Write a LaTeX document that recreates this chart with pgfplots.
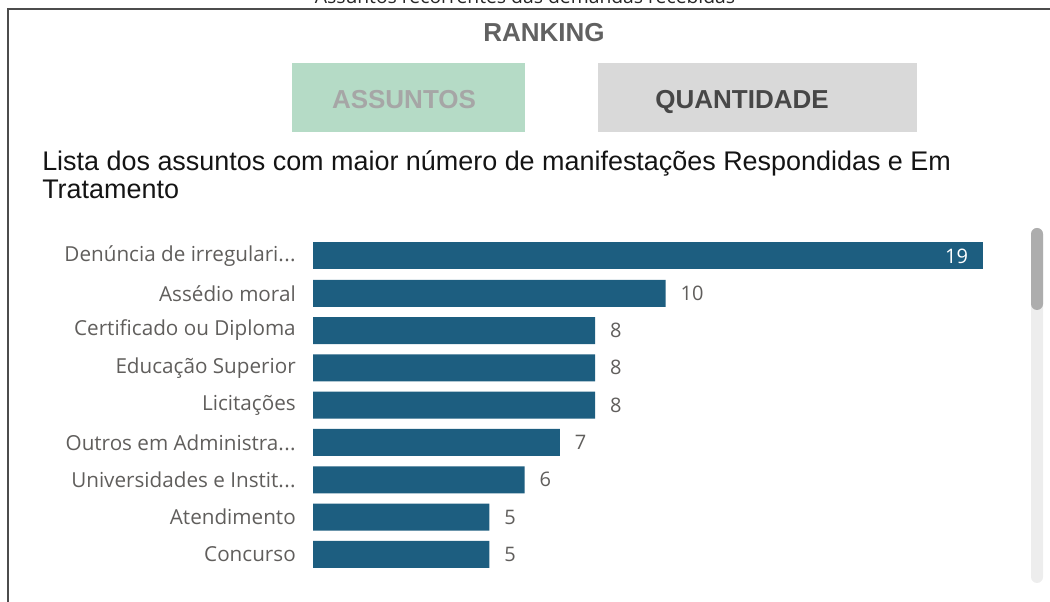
\documentclass[border=0pt]{standalone}
\usepackage{pgfplots}
\pgfplotsset{compat=1.18}
\usepackage{fontspec}
\setmainfont{Liberation Sans}
\newfontfamily\segoe{Open Sans}
\definecolor{barc}{RGB}{29,94,128}
\definecolor{greenbtn}{RGB}{181,219,198}
\definecolor{graybtn}{RGB}{217,217,217}
\definecolor{labelc}{RGB}{96,94,92}
\newcommand{\dd}{.\kern0.3pt.\kern0.3pt.}
\begin{document}
\begin{tikzpicture}
\useasboundingbox (0,0) rectangle (787.5pt,451.5pt);
\clip (0,0) rectangle (787.5pt,451.5pt);
\begin{scope}[x=0.75pt,y=-0.75pt,shift={(0pt,451.5pt)}]
  % cut caption
  \node[font=\segoe\fontsize{14.5}{16}\selectfont, text=black!85, anchor=base, inner sep=0pt] at (525,4) {Assuntos recorrentes das demandas recebidas};
  % frame
  \draw[color=black!70, line width=1.5pt] (8,603) -- (8,9) -- (1051,9);
  % ranking
  \node[font=\bfseries\fontsize{19.5}{22}\selectfont, text=black!62, anchor=base, inner sep=0pt] at (544,42) {RANKING};
  % buttons
  \fill[greenbtn] (292,63) rectangle (525,132);
  \fill[graybtn] (598,63) rectangle (917,132);
  \node[font=\bfseries\fontsize{19.5}{22}\selectfont, text=black!35, anchor=base, inner sep=0pt] at (404,109) {ASSUNTOS};
  \node[font=\bfseries\fontsize{19.5}{22}\selectfont, text=black!72, anchor=base, inner sep=0pt] at (742,109) {QUANTIDADE};
  % subtitle
  \node[font=\fontsize{20.2}{24}\selectfont, text=black!92, anchor=base west, inner sep=0pt] at (42,171) {Lista dos assuntos com maior número de manifestações Respondidas e Em};
  \node[font=\fontsize{20.2}{24}\selectfont, text=black!92, anchor=base west, inner sep=0pt] at (42,199) {Tratamento};
  % scrollbar
  \fill[black!7, rounded corners=4.5pt] (1031,228) rectangle (1043,583);
  \fill[black!32, rounded corners=4.5pt] (1031,228) rectangle (1043,310);
\end{scope}
\begin{axis}[
  at={(234.75pt,21.75pt)}, anchor=south west,
  scale only axis, width=502.5pt, height=251.775pt,
  xmin=0, xmax=19, ymin=-0.5, ymax=8.5, y dir=reverse,
  axis line style={draw=none}, major tick length=0pt,
  xtick=\empty, ytick={0,1,2,3,4,5,6,7,8},
  yticklabels={{Denúncia de irregulari\dd},{Assédio moral},{Certificado ou Diploma},{Educação Superior},{Licitações},{Outros em Administra\dd},{Universidades e Instit\dd},{Atendimento},{Concurso}},
  yticklabel style={font=\segoe\fontsize{15.5}{18}\selectfont, text=labelc, anchor=east, inner sep=0pt, xshift=-12.75pt},
  /pgf/number format/assume math mode=true,
  clip=false,
]
\addplot[xbar, fill=barc, draw=none, bar width=20.25pt, bar shift=0pt,
  nodes near coords, nodes near coords style={anchor=east, inner sep=0pt, xshift=-11pt, text=white, font=\segoe\fontsize{15}{18}\selectfont}]
  coordinates {(19,0)};
\addplot[xbar, fill=barc, draw=none, bar width=20.25pt, bar shift=0pt,
  nodes near coords, nodes near coords style={anchor=west, inner sep=0pt, xshift=11pt, text=labelc, font=\segoe\fontsize{15}{18}\selectfont}]
  coordinates {(10,1) (8,2) (8,3) (8,4) (7,5) (6,6) (5,7) (5,8)};
\end{axis}
\end{tikzpicture}
\end{document}
